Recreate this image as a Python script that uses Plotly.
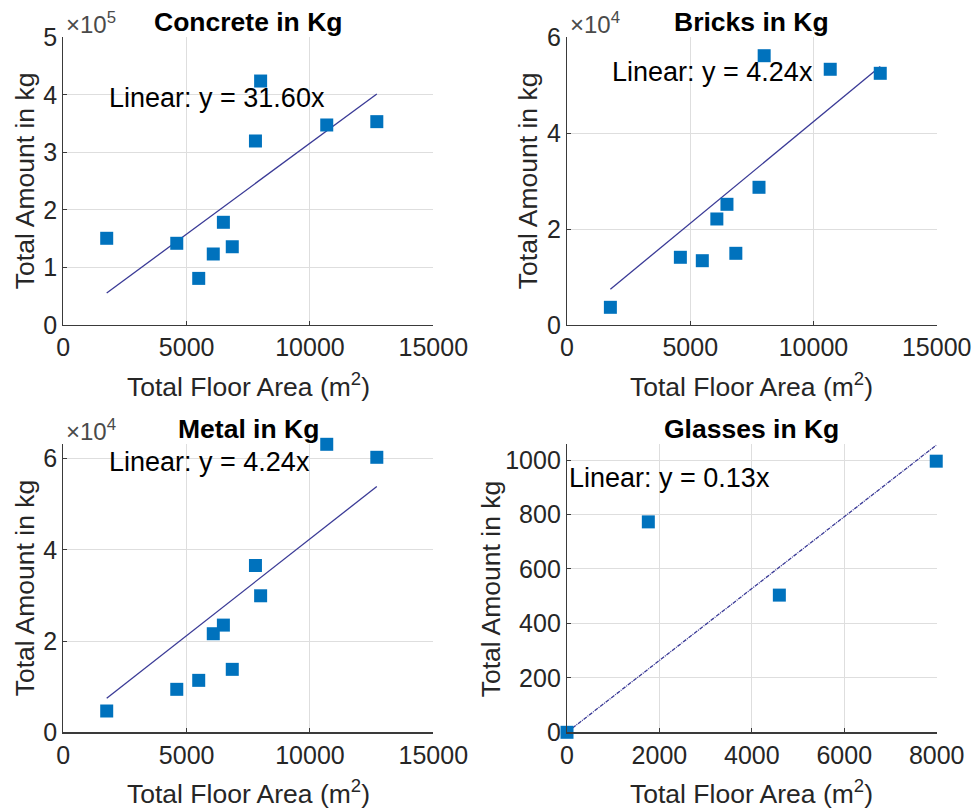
import plotly.graph_objects as go

# ---------------- data ----------------
floor_area = [1760, 4600, 5490, 6080, 6490, 6850, 7790, 8000, 10680, 12710]
concrete = [150700, 142000, 81000, 123400, 178500, 136000, 319800, 424000, 347600, 353400]
bricks = [3690, 14120, 13410, 22110, 25170, 14950, 28720, 56160, 53330, 52490]
metal = [4670, 9420, 11390, 21610, 23500, 13800, 36570, 29930, 63140, 60290]

glass_area = [0, 1760, 4595, 7990]
glasses = [0, 773, 504, 996]

slopes = [31.60, 4.24, 4.24, 0.132]
titles = ["Concrete in Kg", "Bricks in Kg", "Metal in Kg", "Glasses in Kg"]
x_ticks_a = [0, 5000, 10000, 15000]
x_ticks_b = [0, 2000, 4000, 6000, 8000]
y_ticks = [
    [0, 100000, 200000, 300000, 400000, 500000],
    [0, 20000, 40000, 60000],
    [0, 20000, 40000, 60000],
    [0, 200, 400, 600, 800, 1000],
]
y_tick_text = [
    ["0", "1", "2", "3", "4", "5"],
    ["0", "2", "4", "6"],
    ["0", "2", "4", "6"],
    ["0", "200", "400", "600", "800", "1000"],
]
exponents = ["5", "4", "4", None]

# ---------------- layout constants ----------------
W, H = 972, 810
FONT = "Liberation Sans, Arial, Helvetica, sans-serif"
TXT = "#262626"
MARK = "#0072BD"
LINE = "#3A3A96"
GRID = "#DEDEDE"

def px(x):
    return x / W

def py(y):
    return 1 - y / H

cols = [(63.3, 433.3), (567.0, 936.7)]
rows = [(37.3, 325.0), (444.3, 732.3)]
panels = [(0, 0), (0, 1), (1, 0), (1, 1)]

xs_all = [floor_area, floor_area, floor_area, glass_area]
ys_all = [concrete, bricks, metal, glasses]
x_ranges = [[0, 15000], [0, 15000], [0, 15000], [0, 8000]]
y_ranges = [[0, 500000], [0, 60000], [0, 63140], [0, 1058]]
x_tickvals = [x_ticks_a, x_ticks_a, x_ticks_a, x_ticks_b]
label_y = [394500, 52830, 59250, 933]
line_dash = ["solid", "solid", "solid", "4px,1px,1px,1px"]

fig = go.Figure()
annotations = []
layout_axes = {}

for i, (r, c) in enumerate(panels):
    n = i + 1
    xa = "x" if n == 1 else f"x{n}"
    ya = "y" if n == 1 else f"y{n}"
    xs, ys = xs_all[i], ys_all[i]

    # fitted line y = slope * x
    lx = [min(xs), max(xs)]
    ly = [slopes[i] * v for v in lx]
    fig.add_trace(go.Scatter(
        x=lx, y=ly, mode="lines", xaxis=xa, yaxis=ya,
        line=dict(color=LINE, width=1.3, dash=line_dash[i]),
        showlegend=False, hoverinfo="skip", cliponaxis=False))
    fig.add_trace(go.Scatter(
        x=xs, y=ys, mode="markers", xaxis=xa, yaxis=ya,
        marker=dict(symbol="square", size=13, color=MARK,
                    line=dict(width=0)),
        showlegend=False, cliponaxis=False))

    x0, x1 = cols[c]
    y0, y1 = rows[r]
    axis_common = dict(
        automargin=False,
        showline=True, linecolor="#3a3a3a", linewidth=1.2,
        ticks="inside", ticklen=4, tickcolor="#3a3a3a", tickwidth=1,
        showgrid=True, gridcolor=GRID, gridwidth=1,
        zeroline=False, mirror=False,
        tickfont=dict(family=FONT, size=25, color=TXT),
    )
    layout_axes["xaxis" if n == 1 else f"xaxis{n}"] = dict(
        domain=[px(x0), px(x1)], anchor=ya, range=x_ranges[i],
        tickvals=x_tickvals[i], ticktext=[str(v) for v in x_tickvals[i]],
        **axis_common)
    layout_axes["yaxis" if n == 1 else f"yaxis{n}"] = dict(
        domain=[py(y1), py(y0)], anchor=xa, range=y_ranges[i],
        tickvals=y_ticks[i], ticktext=y_tick_text[i],
        **axis_common)

    cx = (x0 + x1) / 2
    # title
    annotations.append(dict(
        text=f"<b>{titles[i]}</b>", x=px(cx), y=py(y0 - 15),
        xref="paper", yref="paper", showarrow=False,
        xanchor="center", yanchor="middle",
        font=dict(family=FONT, size=26.5, color="black")))
    # x-axis title
    annotations.append(dict(
        text="Total Floor Area (m<sup>2</sup>)", x=px(cx), y=py(y1 + 60),
        xref="paper", yref="paper", showarrow=False,
        xanchor="center", yanchor="middle",
        font=dict(family=FONT, size=26.5, color=TXT)))
    # y-axis title
    ytx = [25, 528][c] if i != 3 else 491
    annotations.append(dict(
        text="Total Amount in kg", x=px(ytx), y=py((y0 + y1) / 2),
        xref="paper", yref="paper", showarrow=False, textangle=-90,
        xanchor="center", yanchor="middle",
        font=dict(family=FONT, size=26.5, color=TXT)))
    # exponent label
    if exponents[i]:
        annotations.append(dict(
            text=f"\u00d710<sup>{exponents[i]}</sup>", x=px(x0 + 1), y=py(y0 - 14),
            xref="paper", yref="paper", showarrow=False,
            xanchor="left", yanchor="middle",
            font=dict(family=FONT, size=24, color="#4a4a4a")))
    # fit label
    annotations.append(dict(
        text=f"Linear: y = {slopes[i]:.2f}x", x=min(xs), y=label_y[i],
        xref=xa, yref=ya, showarrow=False,
        xanchor="left", yanchor="middle",
        font=dict(family=FONT, size=27, color="black")))

fig.update_layout(
    template="none",
    width=W, height=H,
    margin=dict(l=0, r=0, t=0, b=0, autoexpand=False),
    paper_bgcolor="white", plot_bgcolor="white",
    annotations=annotations,
    hovermode=False,
    **layout_axes,
)

fig.write_html(
    "out.html",
    config={"displayModeBar": False, "staticPlot": True},
    post_script="document.body.style.margin='0';document.body.style.overflow='hidden';",
)
